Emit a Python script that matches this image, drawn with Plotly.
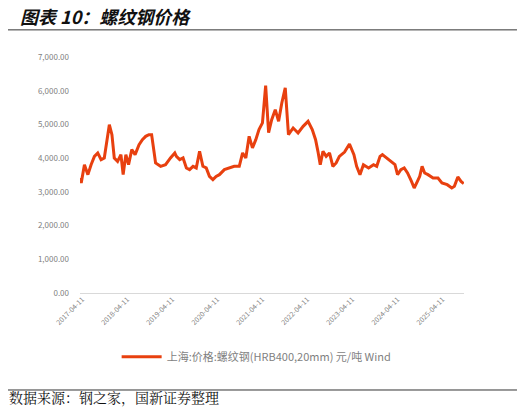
import plotly.graph_objects as go

# Rebar price, Shanghai HRB400 20mm (yuan/ton)
dates = [
    "2017-03-26", "2017-04-03", "2017-04-29", "2017-05-27", "2017-06-22", "2017-07-19",
    "2017-08-15", "2017-09-11", "2017-10-07", "2017-11-04", "2017-11-17", "2017-12-08",
    "2017-12-27", "2018-01-23", "2018-02-19", "2018-03-09", "2018-03-31", "2018-04-22",
    "2018-05-18", "2018-06-14", "2018-07-16", "2018-08-12", "2018-09-08", "2018-10-04",
    "2018-10-26", "2018-11-14", "2018-11-27", "2019-01-07", "2019-02-16", "2019-03-28",
    "2019-05-02", "2019-05-15", "2019-06-11", "2019-07-08", "2019-08-04", "2019-08-30",
    "2019-09-27", "2019-10-23", "2019-11-19", "2019-12-16", "2020-01-12", "2020-02-07",
    "2020-03-06", "2020-04-01", "2020-04-28", "2020-06-07", "2020-07-17", "2020-08-26",
    "2020-10-06", "2020-11-02", "2020-11-28", "2020-12-25", "2021-01-21", "2021-02-17",
    "2021-03-15", "2021-04-12", "2021-05-08", "2021-06-01", "2021-06-26", "2021-07-25",
    "2021-08-21", "2021-09-16", "2021-10-14", "2021-11-09", "2021-12-17", "2022-01-26",
    "2022-03-08", "2022-04-17", "2022-05-21", "2022-06-17", "2022-07-06", "2022-07-25",
    "2022-08-16", "2022-09-11", "2022-10-08", "2022-11-04", "2022-12-01", "2022-12-27",
    "2023-02-07", "2023-03-19", "2023-04-24", "2023-05-16", "2023-06-12", "2023-07-10",
    "2023-08-21", "2023-09-30", "2023-10-26", "2023-11-22", "2023-12-11", "2024-01-15",
    "2024-02-24", "2024-03-22", "2024-04-12", "2024-05-09", "2024-06-05", "2024-07-02",
    "2024-08-03", "2024-08-25", "2024-09-20", "2024-10-09", "2024-10-28", "2024-11-18",
    "2024-12-15", "2025-01-25", "2025-03-06", "2025-04-07", "2025-05-20", "2025-06-26",
    "2025-07-17", "2025-08-14", "2025-09-09", "2025-10-01",
]
prices = [
    3412, 3264, 3806, 3510, 3806, 4053,
    4154, 3955, 4005, 4697, 4993, 4697,
    4005, 3905, 4103, 3510, 4103, 3806,
    4252, 4103, 4400, 4548, 4647, 4697,
    4697, 4202, 3857, 3757, 3806, 4005,
    4154, 4053, 3955, 4005, 3709, 3658,
    3757, 3709, 4202, 3757, 3709, 3460,
    3362, 3460, 3510, 3658, 3709, 3757,
    3757, 4154, 4005, 4647, 4302, 4548,
    4845, 5044, 6150, 4755, 5142, 5438,
    5091, 5637, 6082, 4697, 4895, 4747,
    4943, 5091, 4845, 4548, 4202, 3806,
    4202, 4053, 4154, 3757, 3857, 4053,
    4180, 4420, 4103, 3757, 3510, 3806,
    3709, 3806, 3757, 4053, 4103, 4005,
    3905, 3806, 3510, 3658, 3709, 3560,
    3311, 3115, 3311, 3460, 3757, 3560,
    3510, 3412, 3412, 3264, 3213, 3115,
    3164, 3441, 3311, 3243,
]
tick_dates = ["2017-04-11", "2018-04-11", "2019-04-11", "2020-04-11", "2021-04-11",
              "2022-04-11", "2023-04-11", "2024-04-11", "2025-04-11"]
y_ticks = [0, 1000, 2000, 3000, 4000, 5000, 6000, 7000]

series_name = "上海:价格:螺纹钢(HRB400,20mm) 元/吨 Wind"
title_text = "<b><i>图表 10：螺纹钢价格</i></b>"
source_text = "数据来源：钢之家，国新证券整理"

fig = go.Figure()
fig.add_trace(go.Scatter(
    x=dates, y=prices, mode="lines", name=series_name,
    line=dict(color="#E8400F", width=3),
))

# page body has an 8px default margin, so the figure is 8px smaller each way
fig.update_layout(
    width=519, height=410,
    margin=dict(l=72, r=63, t=49, b=125),
    paper_bgcolor="white", plot_bgcolor="white",
    font=dict(family="Noto Sans CJK SC, Noto Sans, sans-serif", color="#595959"),
    title=dict(text=title_text, xref="container", yref="container",
               x=0.023, xanchor="left", y=1, yanchor="top", pad=dict(t=3, l=0),
               font=dict(size=18, color="#111111")),
    showlegend=True,
    legend=dict(orientation="h", x=0.46, xanchor="center", y=-0.27, yanchor="middle",
                font=dict(size=11, color="#7f7f7f"), itemwidth=40),
    xaxis=dict(
        type="date", range=["2017-03-24", "2025-10-03"],
        tickvals=tick_dates, ticktext=tick_dates, tickangle=-45,
        tickfont=dict(size=7, color="#808080"),
        showgrid=False, zeroline=False, showline=False, ticks="",
    ),
    yaxis=dict(
        range=[0, 7000], tickvals=y_ticks, tickformat=",.2f",
        tickfont=dict(size=8, color="#808080"),
        showgrid=False, zeroline=True, zerolinecolor="#d9d9d9", zerolinewidth=1,
        showline=False, ticks="", ticklabelstandoff=10,
    ),
)

# header / footer rules and source note
fig.add_shape(type="line", xref="paper", yref="paper", x0=-0.195, x1=1.138, y0=1.115, y1=1.115,
              line=dict(color="#333333", width=1))
fig.add_shape(type="line", xref="paper", yref="paper", x0=-0.195, x1=1.138, y0=-0.411, y1=-0.411,
              line=dict(color="#333333", width=1))
fig.add_annotation(text=source_text, xref="paper", yref="paper", x=-0.19, y=-0.441,
                   xanchor="left", yanchor="middle", showarrow=False,
                   font=dict(size=14, color="#111111", family="Noto Serif CJK SC, Noto Sans CJK SC"))

fig.write_html("out.html")
